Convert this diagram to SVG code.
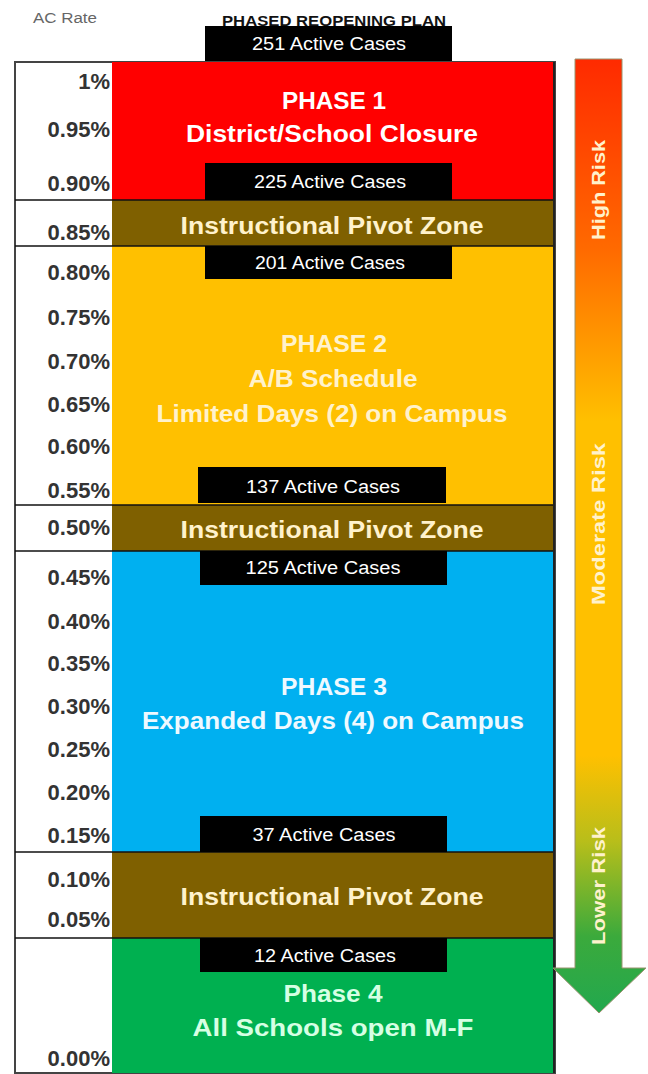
<svg xmlns="http://www.w3.org/2000/svg" width="648" height="1074" viewBox="0 0 648 1074">
<defs>
<linearGradient id="riskGrad" gradientUnits="userSpaceOnUse" x1="0" y1="59" x2="0" y2="1013">
<stop offset="0" stop-color="#FF2A00"/>
<stop offset="0.2" stop-color="#FF6A00"/>
<stop offset="0.38" stop-color="#FFC000"/>
<stop offset="0.73" stop-color="#FFC000"/>
<stop offset="0.82" stop-color="#B8BE1A"/>
<stop offset="0.92" stop-color="#3BAA3C"/>
<stop offset="1" stop-color="#22A84E"/>
</linearGradient>
<style>
text{font-family:"Liberation Sans",Arial,sans-serif}
.rate{font-size:22px;font-weight:bold;fill:#333;text-anchor:end}
.box{fill:#000}
.cases{font-size:18px;fill:#fff;text-anchor:middle}
.title{font-size:24px;font-weight:bold;text-anchor:middle}
.pivot{fill:#7F6000}
.pivtxt{font-size:24px;font-weight:bold;fill:#FFF2CC;text-anchor:middle}
.risk{font-size:19px;font-weight:bold;fill:#FFF2CC;text-anchor:middle}
.sep{stroke:#111;stroke-width:1.5}
</style>
</defs>
<rect width="648" height="1074" fill="#fff"/>

<g id="header">
<text x="65" y="23" font-size="14" fill="#666" text-anchor="middle" textLength="64" lengthAdjust="spacingAndGlyphs">AC Rate</text>
<text x="334" y="26" font-size="14" font-weight="bold" fill="#111" text-anchor="middle" textLength="224" lengthAdjust="spacingAndGlyphs">PHASED REOPENING PLAN</text>
</g>

<g id="frame">
<rect x="15" y="62" width="540" height="1011" fill="#fff" stroke="#444" stroke-width="2"/>
</g>

<g id="phase1">
<rect x="112" y="62" width="442" height="138" fill="#FF0000"/>
<text class="title" x="334" y="109" fill="#fff" textLength="104" lengthAdjust="spacingAndGlyphs">PHASE 1</text>
<text class="title" x="332" y="142" fill="#fff" textLength="292" lengthAdjust="spacingAndGlyphs">District/School Closure</text>
</g>

<g id="pivot1">
<rect class="pivot" x="112" y="200" width="442" height="46"/>
<text class="pivtxt" x="332" y="234" textLength="303" lengthAdjust="spacingAndGlyphs">Instructional Pivot Zone</text>
</g>

<g id="phase2">
<rect x="112" y="246" width="442" height="259" fill="#FFC000"/>
<text class="title" x="334" y="352" fill="#FFF2CC" textLength="106" lengthAdjust="spacingAndGlyphs">PHASE 2</text>
<text class="title" x="333" y="387" fill="#FFF2CC" textLength="169" lengthAdjust="spacingAndGlyphs">A/B Schedule</text>
<text class="title" x="332" y="422" fill="#FFF2CC" textLength="351" lengthAdjust="spacingAndGlyphs">Limited Days (2) on Campus</text>
</g>

<g id="pivot2">
<rect class="pivot" x="112" y="505" width="442" height="46"/>
<text class="pivtxt" x="332" y="538" textLength="303" lengthAdjust="spacingAndGlyphs">Instructional Pivot Zone</text>
</g>

<g id="phase3">
<rect x="112" y="551" width="442" height="301" fill="#00B0F0"/>
<text class="title" x="334" y="695" fill="#EEF9FF" textLength="106" lengthAdjust="spacingAndGlyphs">PHASE 3</text>
<text class="title" x="333" y="729" fill="#EEF9FF" textLength="382" lengthAdjust="spacingAndGlyphs">Expanded Days (4) on Campus</text>
</g>

<g id="pivot3">
<rect class="pivot" x="112" y="852" width="442" height="86"/>
<text class="pivtxt" x="332" y="905" textLength="303" lengthAdjust="spacingAndGlyphs">Instructional Pivot Zone</text>
</g>

<g id="phase4">
<rect x="112" y="938" width="442" height="135" fill="#00B050"/>
<text class="title" x="333" y="1002" fill="#D6FFE4" textLength="99" lengthAdjust="spacingAndGlyphs">Phase 4</text>
<text class="title" x="333" y="1036" fill="#D6FFE4" textLength="281" lengthAdjust="spacingAndGlyphs">All Schools open M-F</text>
</g>

<g id="connectors">
<line class="sep" x1="15" y1="200" x2="555" y2="200"/>
<line class="sep" x1="15" y1="246" x2="555" y2="246"/>
<line class="sep" x1="15" y1="505" x2="555" y2="505"/>
<line class="sep" x1="15" y1="551" x2="555" y2="551"/>
<line class="sep" x1="15" y1="852" x2="555" y2="852"/>
<line class="sep" x1="15" y1="938" x2="555" y2="938"/>
<line x1="554" y1="62" x2="554" y2="1073" stroke="#222" stroke-width="2"/>
</g>

<g id="cases">
<rect class="box" x="205" y="26" width="247" height="35"/>
<text class="cases" x="329" y="50" textLength="154" lengthAdjust="spacingAndGlyphs">251 Active Cases</text>
<rect class="box" x="205" y="163" width="247" height="37"/>
<text class="cases" x="330" y="188" textLength="152" lengthAdjust="spacingAndGlyphs">225 Active Cases</text>
<rect class="box" x="205" y="246" width="247" height="33"/>
<text class="cases" x="330" y="269" textLength="150" lengthAdjust="spacingAndGlyphs">201 Active Cases</text>
<rect class="box" x="198" y="467" width="248" height="36"/>
<text class="cases" x="323" y="493" textLength="154" lengthAdjust="spacingAndGlyphs">137 Active Cases</text>
<rect class="box" x="200" y="551" width="247" height="34"/>
<text class="cases" x="323" y="574" textLength="155" lengthAdjust="spacingAndGlyphs">125 Active Cases</text>
<rect class="box" x="200" y="816" width="247" height="36"/>
<text class="cases" x="324" y="841" textLength="143" lengthAdjust="spacingAndGlyphs">37 Active Cases</text>
<rect class="box" x="200" y="938" width="247" height="34"/>
<text class="cases" x="325" y="962" textLength="142" lengthAdjust="spacingAndGlyphs">12 Active Cases</text>
</g>

<g id="rates">
<text class="rate" x="110" y="89">1%</text>
<text class="rate" x="110" y="137">0.95%</text>
<text class="rate" x="110" y="191">0.90%</text>
<text class="rate" x="110" y="240">0.85%</text>
<text class="rate" x="110" y="280">0.80%</text>
<text class="rate" x="110" y="325">0.75%</text>
<text class="rate" x="110" y="369">0.70%</text>
<text class="rate" x="110" y="412">0.65%</text>
<text class="rate" x="110" y="454">0.60%</text>
<text class="rate" x="110" y="498">0.55%</text>
<text class="rate" x="110" y="535">0.50%</text>
<text class="rate" x="110" y="585">0.45%</text>
<text class="rate" x="110" y="629">0.40%</text>
<text class="rate" x="110" y="671">0.35%</text>
<text class="rate" x="110" y="714">0.30%</text>
<text class="rate" x="110" y="757">0.25%</text>
<text class="rate" x="110" y="800">0.20%</text>
<text class="rate" x="110" y="843">0.15%</text>
<text class="rate" x="110" y="887">0.10%</text>
<text class="rate" x="110" y="927">0.05%</text>
<text class="rate" x="110" y="1066">0.00%</text>
</g>

<g id="risk-arrow">
<path d="M575,59 H622 V968 H646 L599,1013 L553,968 H575 Z" fill="url(#riskGrad)" stroke="#9a9470" stroke-width="1"/>
<text class="risk" transform="translate(598,190) rotate(-90)" y="6.5" textLength="100" lengthAdjust="spacingAndGlyphs">High Risk</text>
<text class="risk" transform="translate(598,524) rotate(-90)" y="6.5" textLength="162" lengthAdjust="spacingAndGlyphs">Moderate Risk</text>
<text class="risk" transform="translate(598,886) rotate(-90)" y="6.5" textLength="118" lengthAdjust="spacingAndGlyphs">Lower Risk</text>
</g>
</svg>
